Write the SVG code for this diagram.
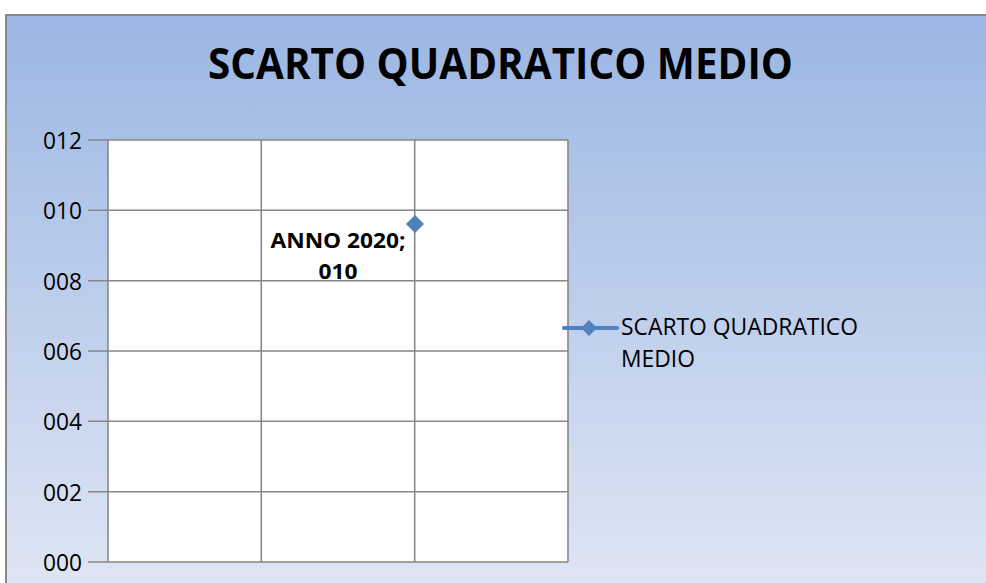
<svg xmlns="http://www.w3.org/2000/svg" width="986" height="583" viewBox="0 0 986 583">
<defs>
<linearGradient id="bg" x1="0" y1="0" x2="0" y2="1">
<stop offset="0" stop-color="#9bb6e3"/>
<stop offset="1" stop-color="#dfe6f4"/>
</linearGradient>
<style>
.grid{stroke:#878787;stroke-width:1.6;fill:none}
.ax{font-family:"Open Sans","Liberation Sans",sans-serif;font-size:23px;fill:#000;text-anchor:end}
.lbl{font-family:"Open Sans","Liberation Sans",sans-serif;font-size:21.5px;font-weight:bold;fill:#000;text-anchor:middle}
.leg{font-family:"Open Sans","Liberation Sans",sans-serif;font-size:23px;fill:#000}
.mk{fill:#4f81bd}
</style>
</defs>
<rect x="6" y="15" width="990" height="575" fill="url(#bg)" stroke="#898989" stroke-width="2"/>
<g id="title">
<text x="500.5" y="79" font-family="'Open Sans','Liberation Sans',sans-serif" font-size="43" font-weight="bold" text-anchor="middle" textLength="585" lengthAdjust="spacingAndGlyphs">SCARTO QUADRATICO MEDIO</text>
</g>
<g id="plot">
<rect x="108" y="140" width="460" height="422" fill="#fff"/>
<g class="grid">
<path d="M88 140H568M88 210.3H568M88 280.7H568M88 351H568M88 421.3H568M88 491.7H568M88 562H568"/>
<path d="M108 140V562M261.3 140V562M414.7 140V562M568 140V562"/>
</g>
</g>
<g id="yaxis">
<text class="ax" x="82" y="149" textLength="39" lengthAdjust="spacingAndGlyphs">012</text>
<text class="ax" x="82" y="219" textLength="39" lengthAdjust="spacingAndGlyphs">010</text>
<text class="ax" x="82" y="290" textLength="39" lengthAdjust="spacingAndGlyphs">008</text>
<text class="ax" x="82" y="360" textLength="39" lengthAdjust="spacingAndGlyphs">006</text>
<text class="ax" x="82" y="430" textLength="39" lengthAdjust="spacingAndGlyphs">004</text>
<text class="ax" x="82" y="501" textLength="39" lengthAdjust="spacingAndGlyphs">002</text>
<text class="ax" x="82" y="571" textLength="39" lengthAdjust="spacingAndGlyphs">000</text>
</g>
<g id="point">
<path class="mk" d="M415 215L424 224L415 233L406 224Z"/>
<text class="lbl" x="338" y="248" textLength="135" lengthAdjust="spacingAndGlyphs">ANNO 2020;</text>
<text class="lbl" x="338" y="279" textLength="39" lengthAdjust="spacingAndGlyphs">010</text>
</g>
<g id="legend">
<line x1="564" y1="328" x2="617" y2="328" stroke="#4f81bd" stroke-width="4" stroke-linecap="round"/>
<path class="mk" d="M589 320L597 328L589 336L581 328Z"/>
<text class="leg" x="621" y="335" textLength="237" lengthAdjust="spacingAndGlyphs">SCARTO QUADRATICO</text>
<text class="leg" x="621" y="367" textLength="74" lengthAdjust="spacingAndGlyphs">MEDIO</text>
</g>
</svg>
